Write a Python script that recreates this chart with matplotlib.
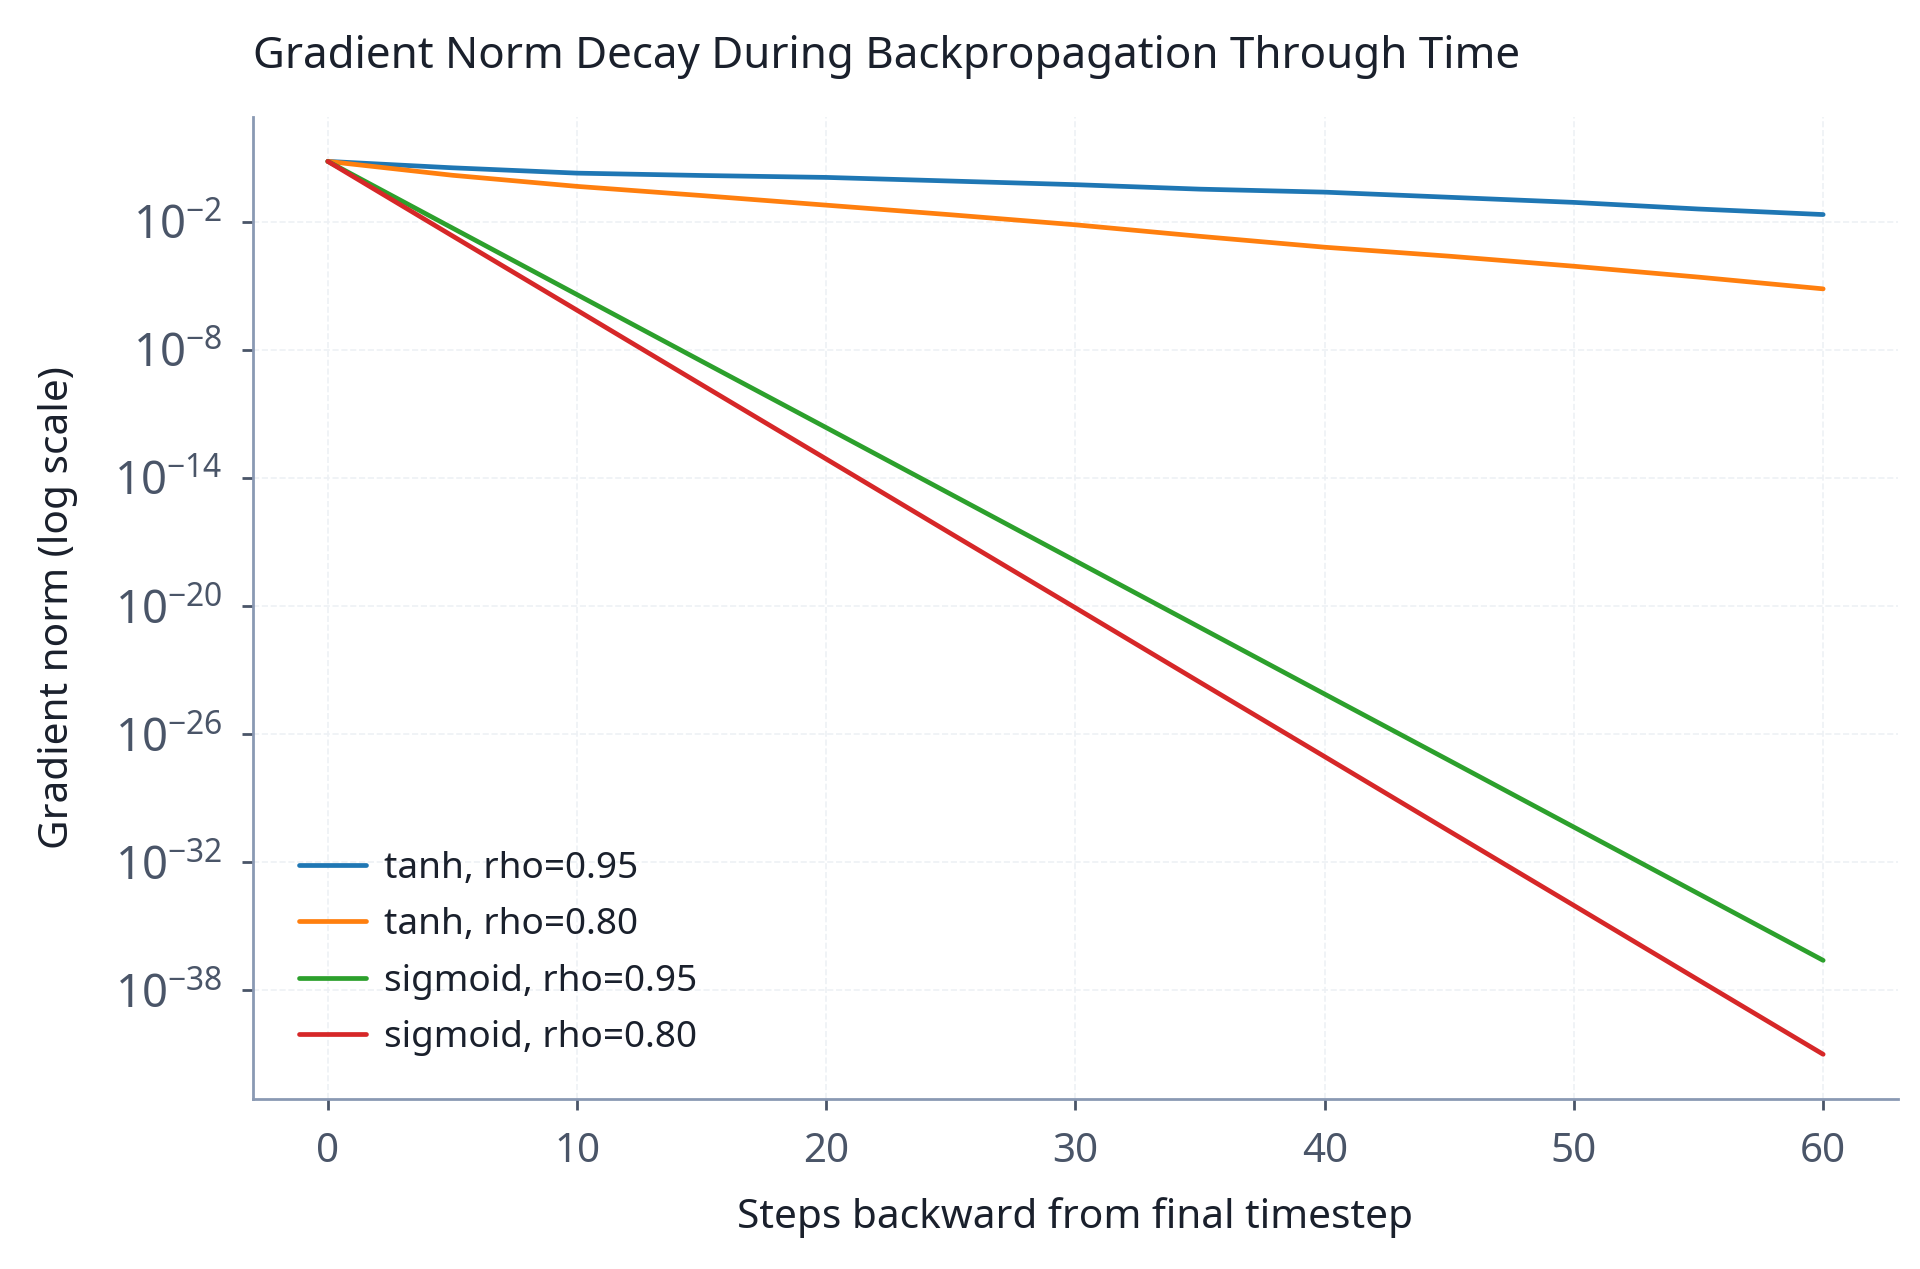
import matplotlib
matplotlib.use("Agg")
import matplotlib.pyplot as plt
from matplotlib.ticker import NullLocator, FixedLocator

plt.rcParams['font.family'] = ['Noto Sans', 'DejaVu Sans']
plt.rcParams['mathtext.fontset'] = 'custom'
plt.rcParams['mathtext.rm'] = 'Noto Sans'
plt.rcParams['mathtext.it'] = 'Noto Sans:italic'
plt.rcParams['mathtext.bf'] = 'Noto Sans:bold'

# ---- data (log10 of gradient norm) ----
steps = [0, 5, 10, 15, 20, 25, 30, 35, 40, 45, 50, 55, 60]
tanh_095_log = [0.82, 0.52, 0.27, 0.16, 0.07, -0.10, -0.27, -0.48, -0.62, -0.86, -1.10, -1.41, -1.67]
tanh_080_log = [0.82, 0.17, -0.35, -0.78, -1.23, -1.68, -2.15, -2.69, -3.20, -3.62, -4.09, -4.60, -5.15]
sigm_095_log = [0.82, -2.30, -5.42, -8.54, -11.65, -14.77, -17.89, -21.01, -24.13, -27.24, -30.36, -33.48, -36.60]
sigm_080_log = [0.82, -2.67, -6.15, -9.64, -13.12, -16.61, -20.09, -23.58, -27.06, -30.55, -34.03, -37.52, -41.00]

series_labels = ["tanh, rho=0.95", "tanh, rho=0.80", "sigmoid, rho=0.95", "sigmoid, rho=0.80"]
series_logs = [tanh_095_log, tanh_080_log, sigm_095_log, sigm_080_log]
series_colors = ["#1f77b4", "#ff7f0e", "#2ca02c", "#d62728"]

ytick_exps = [-2, -8, -14, -20, -26, -32, -38]
xtick_vals = [0, 10, 20, 30, 40, 50, 60]

title = "Gradient Norm Decay During Backpropagation Through Time"
xlabel = "Steps backward from final timestep"
ylabel = "Gradient norm (log scale)"

spine_c = "#8a99b3"
tick_c = "#4a5568"
text_c = "#1a202c"

fig = plt.figure(figsize=(9.6, 6.345), dpi=200)
ax = fig.add_axes([0.1318, 0.134, 0.9885 - 0.1318, 0.908 - 0.134])

for lab, lg, c in zip(series_labels, series_logs, series_colors):
    ax.plot(steps, [10.0 ** v for v in lg], color=c, lw=1.7, label=lab,
            solid_capstyle='round', solid_joinstyle='round')

ax.set_yscale('log')
ax.yaxis.set_major_locator(FixedLocator([10.0 ** e for e in ytick_exps]))
ax.yaxis.set_minor_locator(NullLocator())
ax.set_xticks(xtick_vals)
ax.set_xlim(-3, 63)

for s in ['top', 'right']:
    ax.spines[s].set_visible(False)
for s in ['left', 'bottom']:
    ax.spines[s].set_color(spine_c)
    ax.spines[s].set_linewidth(1.0)

ax.tick_params(axis='both', colors=tick_c, length=4, width=1.0, direction='out')
ax.tick_params(axis='y', pad=7, labelsize=16.4)
ax.tick_params(axis='x', pad=8, labelsize=14.5)
ax.grid(True, which='major', color='#eef1f5', linestyle='--', linewidth=0.6)
ax.set_axisbelow(True)

ax.set_title(title, loc='left', fontsize=15.8, color=text_c, pad=17.5)
ax.set_xlabel(xlabel, fontsize=14.6, color=text_c, labelpad=9)
ax.set_ylabel(ylabel, fontsize=14.6, color=text_c, labelpad=13)

leg = ax.legend(loc='lower left', frameon=False, fontsize=13.3, handlelength=1.8,
                handletextpad=0.5, labelspacing=0.55, bbox_to_anchor=(0.008, 0.010))
for t in leg.get_texts():
    t.set_color(text_c)

fig.savefig("out.png", dpi=200, facecolor='white')
